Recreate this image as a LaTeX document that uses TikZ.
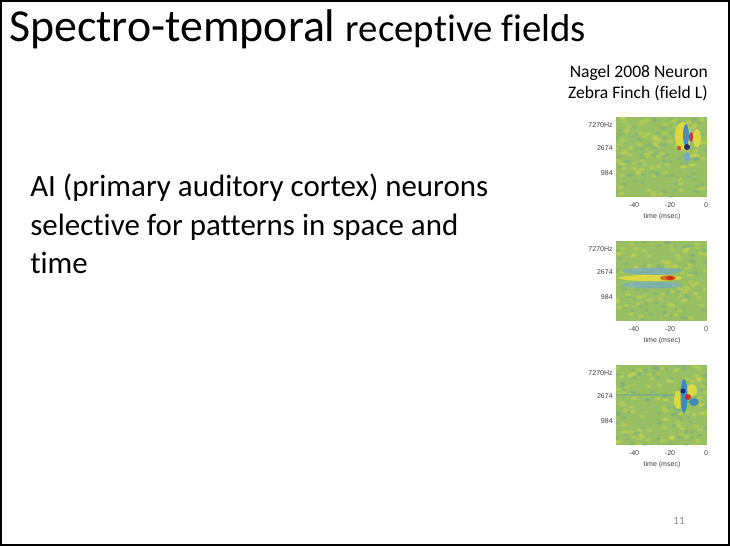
\documentclass[tikz,border=0pt]{standalone}
\usepackage{fontspec}
\setmainfont{Carlito}[Ligatures=NoCommon]
\newfontfamily\plotfont{Liberation Sans}
\usepackage{xcolor}
\usepackage{tikz}
\definecolor{strfgreen}{RGB}{152,192,98}
\definecolor{strfyellow}{RGB}{232,222,64}
\definecolor{strfblue}{RGB}{48,128,205}
\definecolor{strfdark}{RGB}{12,24,120}
\definecolor{strfred}{RGB}{205,36,24}
\definecolor{pagegray}{RGB}{140,140,140}
\tikzset{
    title/.style = {anchor=base west, inner sep=0pt},
    body/.style = {anchor=north west, inner sep=0pt, align=left, font=\fontsize{22}{27.4}\selectfont},
    cite/.style = {anchor=north east, inner sep=0pt, align=right, font=\fontsize{12.5}{14.9}\selectfont},
    tick/.style = {inner sep=0pt, text=black!75, font=\plotfont\fontsize{5}{6}\selectfont},
    ylab/.style = {tick, anchor=east},
    xlab/.style = {tick, anchor=center},
    panel/.style = {fill=strfgreen, draw=none},
    blob/.style = {draw=none, opacity=0.85}
}
\begin{document}
\begin{tikzpicture}[x=0.025cm, y=-0.025cm]
    \useasboundingbox (0,0) rectangle (730,546);
    \draw[line width=1.4pt] (1,1) rectangle (729,545);

    % title and text
    \node[title] (title) at (9,41) {\fontsize{32.6}{39}\selectfont Spectro-temporal \fontsize{27.6}{33}\selectfont receptive fields};
    \node[cite] (cite) at (708,65) {Nagel 2008 Neuron\\Zebra Finch (field L)};
    \node[body] (text) at (30,174) {AI (primary auditory cortex) neurons\\selective for patterns in space and\\time};
    \node[inner sep=0pt, text=pagegray, font=\fontsize{8}{9}\selectfont] (page) at (679,521) {11};

    % three STRF panels
    \foreach \t [count=\i] in {117,241,365}{
        \fill[panel] (616,\t) rectangle (707,\t+80);
        \begin{scope}
            \clip (616,\t) rectangle (707,\t+80);
            \pgfmathsetseed{\i23}
            \foreach \k in {1,...,90}{
                \pgfmathsetmacro{\bx}{616+rnd*91}
                \pgfmathsetmacro{\by}{\t+rnd*80}
                \fill[strfyellow, opacity=0.3] (\bx,\by) ellipse (3 and 1.8);
                \pgfmathsetmacro{\cx}{616+rnd*91}
                \pgfmathsetmacro{\cy}{\t+rnd*80}
                \fill[strfblue!60!strfgreen, opacity=0.25] (\cx,\cy) ellipse (2.5 and 1.5);
            }
        \end{scope}
        \node[ylab] (hz\i) at (613,\t+8) {7270Hz};
        \node[ylab] (mid\i) at (613,\t+31) {2674};
        \node[ylab] (low\i) at (613,\t+56) {984};
        \node[xlab] (xa\i) at (634,\t+88) {-40};
        \node[xlab] (xb\i) at (670,\t+88) {-20};
        \node[xlab] (xc\i) at (706,\t+88) {0};
        \node[xlab] (time\i) at (662,\t+100) {time (msec)};
    }

    % panel 1
    \fill[blob, strfyellow] (683,136) ellipse (8 and 14);
    \fill[blob, strfyellow] (697,138) ellipse (4 and 9);
    \fill[blob, strfblue] (686,135) ellipse (3 and 11);
    \fill[blob, strfblue!70] (687,157) ellipse (3 and 5);
    \fill[blob, strfred] (691,137) ellipse (2 and 5);
    \fill[blob, strfdark] (687,147) ellipse (3 and 3);
    \fill[blob, strfred!80!strfyellow] (679,148) ellipse (2 and 2.5);

    % panel 2
    \fill[blob, strfblue!70, opacity=0.6] (652,271) ellipse (30 and 3.5);
    \fill[blob, strfblue!70, opacity=0.6] (652,285) ellipse (30 and 3.5);
    \fill[blob, strfyellow] (650,278) ellipse (32 and 3);
    \fill[blob, strfred!70!strfyellow] (668,278) ellipse (8 and 2.5);
    \fill[blob, strfred] (670,278) ellipse (4 and 2);

    % panel 3
    \fill[blob, strfblue!40!strfgreen, opacity=0.6] (616,394) rectangle (682,396);
    \fill[blob, strfyellow] (678,400) ellipse (4 and 9);
    \fill[blob, strfyellow] (692,390) ellipse (5 and 6);
    \fill[blob, strfblue] (684,396) ellipse (3.5 and 17);
    \fill[blob, strfblue] (694,402) ellipse (5 and 4);
    \fill[blob, strfdark] (683,391) ellipse (2.5 and 2.5);
    \fill[blob, strfred] (688,397) ellipse (3 and 3);
\end{tikzpicture}
\end{document}
